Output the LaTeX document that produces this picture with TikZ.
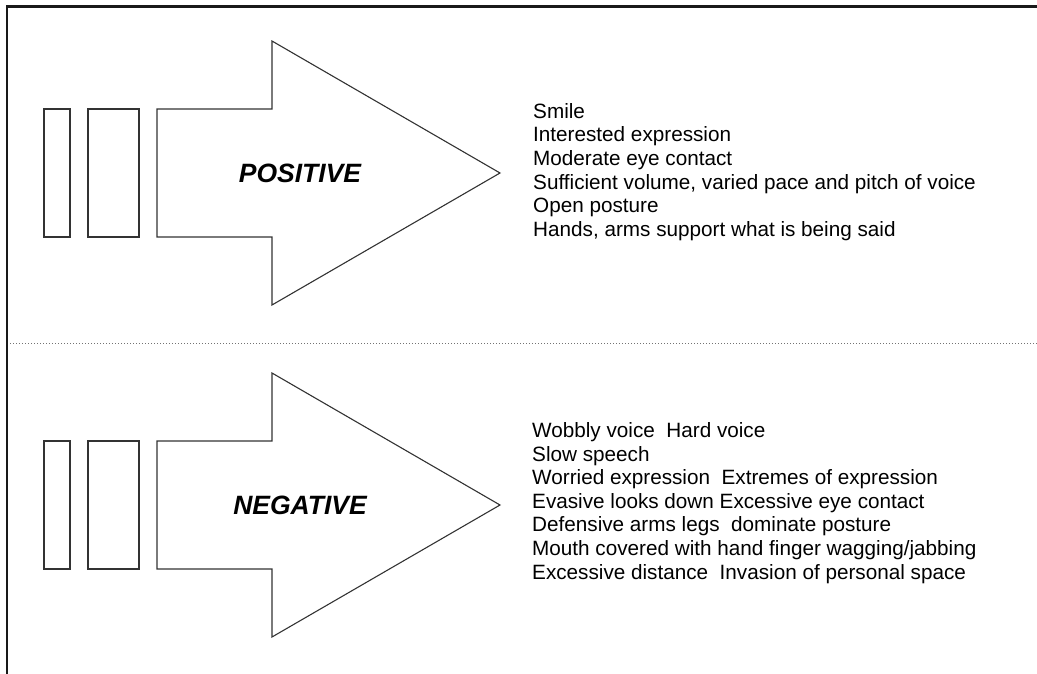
\documentclass[tikz,border=0pt]{standalone}
\usepackage{fontspec}
\setmainfont{Liberation Sans}
\usetikzlibrary{positioning}
\tikzset{
	framebar/.style={draw=black!90, line width=2.8pt},
	barbox/.style={draw=black!80, line width=1.1pt, inner sep=0pt, outer sep=0pt, minimum height=128pt},
	arrowshape/.style={draw=black!80, line width=1.1pt, line join=miter},
	arrowlabel/.style={font=\fontsize{26.5}{30}\selectfont\bfseries\itshape},
	itemlist/.style={anchor=west, align=left, inner sep=0pt, font=\fontsize{20.7}{23.6}\selectfont},
	divider/.style={draw=black!55, line width=1pt, dash pattern=on 1pt off 2pt},
}
\begin{document}
\begin{tikzpicture}[x=1pt, y=-1pt]
	\useasboundingbox (0,0) rectangle (1037,674);
	% frame: top and left edge only
	\coordinate (ftr) at (1037,6.5);
	\coordinate (ftl) at (7,6.5);
	\coordinate (fbl) at (7,674);
	\draw[framebar] (ftr) -- (ftl) -- (fbl);
	% dotted divider
	\coordinate (dl) at (10,343);
	\coordinate (dr) at (1037,343);
	\draw[divider] (dl) -- (dr);
	% the two arrows with their bars
	\foreach \y/\lbl/\nm in {173/POSITIVE/pos, 505/NEGATIVE/neg}{
		\node[barbox, minimum width=26pt] (\nm thin) at (57,\y) {};
		\node[barbox, minimum width=51pt] (\nm wide) at (113.5,\y) {};
		\draw[arrowshape] (157,{\y-64}) -- (272,{\y-64}) -- (272,{\y-132}) -- (500,\y)
			-- (272,{\y+132}) -- (272,{\y+64}) -- (157,{\y+64}) -- cycle;
		\node[arrowlabel] (\nm lbl) at (300,\y) {\lbl};
	}
	% item lists
	\node[itemlist] (poslist) at (533,172) {Smile\\
		Interested expression\\
		Moderate eye contact\\
		Sufficient volume, varied pace and pitch of voice\\
		Open posture\\
		Hands, arms support what is being said};
	\node[itemlist] (neglist) at (532,503) {Wobbly voice\ \ Hard voice\\
		Slow speech\\
		Worried expression\ \ Extremes of expression\\
		Evasive looks down Excessive eye contact\\
		Defensive arms legs\ \ dominate posture\\
		Mouth covered with hand finger wagging/jabbing\\
		Excessive distance\ \ Invasion of personal space};
\end{tikzpicture}
\end{document}
